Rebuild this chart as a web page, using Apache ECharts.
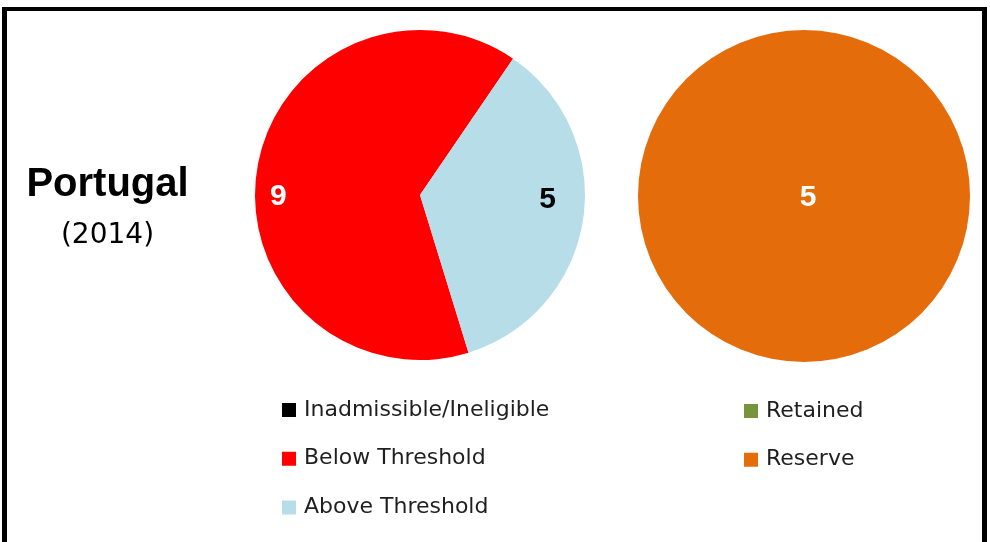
<!DOCTYPE html>
<html>
<head>
<meta charset="utf-8">
<script src="https://cdn.jsdelivr.net/npm/echarts@6/dist/echarts.min.js"></script>
<style>
  html, body { margin: 0; padding: 0; background: #fff; }
  #wrap { position: relative; width: 990px; height: 542px; overflow: hidden; }
  #chart { position: absolute; left: 0; top: 0; width: 990px; height: 542px; }
  #frame { position: absolute; left: 2px; top: 7px; width: 975px; height: 560px;
           border-left: 5px solid #000; border-right: 5px solid #000; border-top: 4px solid #000;
           pointer-events: none; }
</style>
</head>
<body>
<div id="wrap">
  <div id="chart"></div>
  <div id="frame"></div>
</div>
<script>
// ---- data ----
const countryName = 'Portugal';
const yearLabel = '(2014)';
const evalCategories = ['Inadmissible/Ineligible', 'Below Threshold', 'Above Threshold'];
const evalValues = [0, 9, 5];
const evalColors = ['#000000', '#FF0000', '#B7DDE8'];
const outcomeCategories = ['Retained', 'Reserve'];
const outcomeValues = [0, 5];
const outcomeColors = ['#77933C', '#E46C0A'];

const evalLabelColors = ['#000000', '#FFFFFF', '#000000'];
const evalLabelOffsets = [[0, 0], [-57, 15], [43, -8]];

const chart = echarts.init(document.getElementById('chart'), null, { renderer: 'canvas' });

const legendText = {
  fontFamily: 'DejaVu Sans',
  fontSize: 22,
  lineHeight: 22,
  color: '#1f1f1f',
  padding: [0, 0, 0, 3]
};

const option = {
  animation: false,
  backgroundColor: '#ffffff',
  graphic: [
    {
      type: 'text',
      x: 107.5, y: 185,
      style: {
        text: countryName,
        font: 'bold 40px "Liberation Sans"',
        fill: '#000',
        textAlign: 'center',
        textVerticalAlign: 'middle'
      }
    },
    {
      type: 'text',
      x: 107.5, y: 236,
      style: {
        text: yearLabel,
        font: '28px "DejaVu Sans"',
        fill: '#000',
        textAlign: 'center',
        textVerticalAlign: 'middle'
      }
    }
  ],
  legend: [
    {
      orient: 'vertical',
      left: 282, top: 399,
      padding: 0,
      itemWidth: 14, itemHeight: 14,
      itemGap: 26.75,
      icon: 'rect',
      selectedMode: false,
      data: evalCategories,
      textStyle: legendText
    },
    {
      orient: 'vertical',
      left: 744, top: 400,
      padding: 0,
      itemWidth: 14, itemHeight: 14,
      itemGap: 26.75,
      icon: 'rect',
      selectedMode: false,
      data: outcomeCategories,
      textStyle: legendText
    }
  ],
  series: [
    {
      type: 'pie',
      center: [420, 195],
      radius: [0, 165],
      startAngle: 287.1,
      clockwise: true,
      silent: true,
      avoidLabelOverlap: false,
      itemStyle: { borderWidth: 0 },
      labelLine: { show: false },
      label: { formatter: '{c}' },
      data: evalCategories.map((name, i) => ({
        name,
        value: evalValues[i],
        itemStyle: { color: evalColors[i] },
        label: {
          show: evalValues[i] > 0,
          position: 'inside',
          formatter: '{c}',
          offset: evalLabelOffsets[i],
          color: evalLabelColors[i],
          fontFamily: 'Liberation Sans',
          fontWeight: 'bold',
          fontSize: 30
        }
      }))
    },
    {
      type: 'pie',
      center: [804, 196],
      radius: [0, 166],
      startAngle: 90,
      silent: true,
      avoidLabelOverlap: false,
      itemStyle: { borderWidth: 0 },
      labelLine: { show: false },
      label: {
        show: true,
        position: 'center',
        offset: [4, 2],
        color: '#FFFFFF',
        fontFamily: 'Liberation Sans',
        fontWeight: 'bold',
        fontSize: 30,
        formatter: p => (p.value > 0 ? String(p.value) : '')
      },
      data: outcomeCategories.map((name, i) => ({
        name,
        value: outcomeValues[i],
        itemStyle: { color: outcomeColors[i] }
      }))
    }
  ]
};

chart.setOption(option);
</script>
</body>
</html>
